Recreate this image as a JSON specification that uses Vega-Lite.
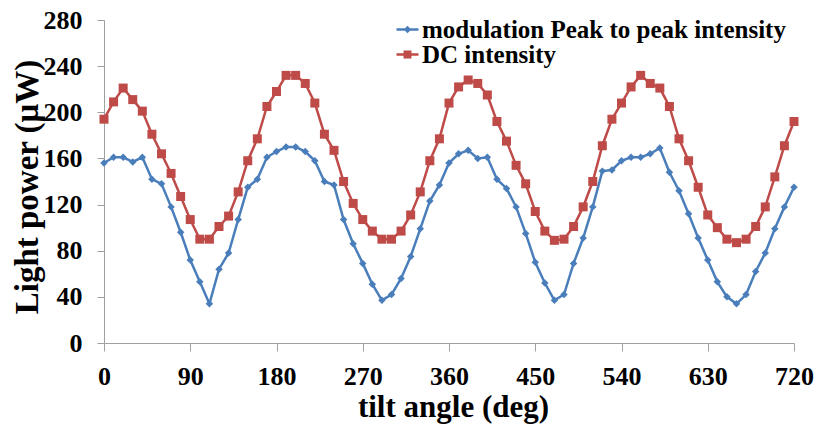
{
  "$schema": "https://vega.github.io/schema/vega-lite/v6.json",
  "width": 690,
  "height": 323,
  "autosize": {"type": "none"},
  "padding": {"left": 104, "top": 20, "right": 22, "bottom": 81},
  "background": "white",
  "config": {
    "view": {"stroke": null},
    "font": "Liberation Serif"
  },
  "data": {
    "values": [
      {"angle": 0, "ModPP": 156, "DC": 194},
      {"angle": 10, "ModPP": 161, "DC": 209},
      {"angle": 20, "ModPP": 161, "DC": 221},
      {"angle": 30, "ModPP": 157, "DC": 211},
      {"angle": 40, "ModPP": 161, "DC": 201},
      {"angle": 50, "ModPP": 142, "DC": 181},
      {"angle": 60, "ModPP": 138, "DC": 164},
      {"angle": 70, "ModPP": 118, "DC": 147},
      {"angle": 80, "ModPP": 96, "DC": 127},
      {"angle": 90, "ModPP": 72, "DC": 107},
      {"angle": 100, "ModPP": 53, "DC": 90},
      {"angle": 110, "ModPP": 34, "DC": 90},
      {"angle": 120, "ModPP": 64, "DC": 101},
      {"angle": 130, "ModPP": 78, "DC": 110},
      {"angle": 140, "ModPP": 107, "DC": 131},
      {"angle": 150, "ModPP": 135, "DC": 158},
      {"angle": 160, "ModPP": 142, "DC": 177},
      {"angle": 170, "ModPP": 161, "DC": 205},
      {"angle": 180, "ModPP": 166, "DC": 218},
      {"angle": 190, "ModPP": 170, "DC": 232},
      {"angle": 200, "ModPP": 170, "DC": 232},
      {"angle": 210, "ModPP": 166, "DC": 225},
      {"angle": 220, "ModPP": 158, "DC": 208},
      {"angle": 230, "ModPP": 140, "DC": 181},
      {"angle": 240, "ModPP": 137, "DC": 167},
      {"angle": 250, "ModPP": 107, "DC": 140},
      {"angle": 260, "ModPP": 86, "DC": 121},
      {"angle": 270, "ModPP": 69, "DC": 107},
      {"angle": 280, "ModPP": 51, "DC": 97},
      {"angle": 290, "ModPP": 37, "DC": 90},
      {"angle": 300, "ModPP": 42, "DC": 90},
      {"angle": 310, "ModPP": 56, "DC": 97},
      {"angle": 320, "ModPP": 75, "DC": 111},
      {"angle": 330, "ModPP": 99, "DC": 131},
      {"angle": 340, "ModPP": 123, "DC": 158},
      {"angle": 350, "ModPP": 137, "DC": 177},
      {"angle": 360, "ModPP": 156, "DC": 208},
      {"angle": 370, "ModPP": 164, "DC": 222},
      {"angle": 380, "ModPP": 167, "DC": 228},
      {"angle": 390, "ModPP": 160, "DC": 225},
      {"angle": 400, "ModPP": 161, "DC": 215},
      {"angle": 410, "ModPP": 142, "DC": 192},
      {"angle": 420, "ModPP": 134, "DC": 175},
      {"angle": 430, "ModPP": 118, "DC": 154},
      {"angle": 440, "ModPP": 95, "DC": 138},
      {"angle": 450, "ModPP": 70, "DC": 114},
      {"angle": 460, "ModPP": 52, "DC": 97},
      {"angle": 470, "ModPP": 37, "DC": 89},
      {"angle": 480, "ModPP": 42, "DC": 90},
      {"angle": 490, "ModPP": 69, "DC": 101},
      {"angle": 500, "ModPP": 91, "DC": 118},
      {"angle": 510, "ModPP": 118, "DC": 140},
      {"angle": 520, "ModPP": 149, "DC": 171},
      {"angle": 530, "ModPP": 150, "DC": 194},
      {"angle": 540, "ModPP": 158, "DC": 208},
      {"angle": 550, "ModPP": 161, "DC": 222},
      {"angle": 560, "ModPP": 161, "DC": 232},
      {"angle": 570, "ModPP": 164, "DC": 225},
      {"angle": 580, "ModPP": 169, "DC": 221},
      {"angle": 590, "ModPP": 148, "DC": 205},
      {"angle": 600, "ModPP": 132, "DC": 177},
      {"angle": 610, "ModPP": 112, "DC": 158},
      {"angle": 620, "ModPP": 91, "DC": 135},
      {"angle": 630, "ModPP": 72, "DC": 111},
      {"angle": 640, "ModPP": 53, "DC": 100},
      {"angle": 650, "ModPP": 40, "DC": 90},
      {"angle": 660, "ModPP": 34, "DC": 87},
      {"angle": 670, "ModPP": 42, "DC": 90},
      {"angle": 680, "ModPP": 62, "DC": 101},
      {"angle": 690, "ModPP": 78, "DC": 118},
      {"angle": 700, "ModPP": 99, "DC": 144},
      {"angle": 710, "ModPP": 118, "DC": 171},
      {"angle": 720, "ModPP": 135, "DC": 192}
    ]
  },
  "transform": [{"fold": ["ModPP", "DC"], "as": ["key", "value"]}],
  "encoding": {
    "x": {
      "field": "angle", "type": "quantitative",
      "scale": {"domain": [0, 720], "nice": false, "zero": false},
      "axis": {
        "values": [0, 90, 180, 270, 360, 450, 540, 630, 720],
        "grid": false, "domainColor": "#a0a0a0", "tickColor": "#a0a0a0", "tickSize": 8,
        "labelFont": "Liberation Serif", "labelFontWeight": "bold", "labelFontSize": 26, "labelColor": "black",
        "labelPadding": 12, "labelFlush": false,
        "title": "tilt angle (deg)", "titleFont": "Liberation Serif", "titleFontWeight": "bold", "titleFontSize": 31,
        "titleColor": "black", "titleX": 349, "titleY": 73, "titleBaseline": "alphabetic", "titleAlign": "center"
      }
    },
    "y": {
      "field": "value", "type": "quantitative",
      "scale": {"domain": [0, 280], "nice": false},
      "axis": {
        "values": [0, 40, 80, 120, 160, 200, 240, 280],
        "grid": false, "domainColor": "#a0a0a0", "tickColor": "#a0a0a0", "tickSize": 7,
        "labelFont": "Liberation Serif", "labelFontWeight": "bold", "labelFontSize": 26, "labelColor": "black",
        "labelPadding": 15, "labelFlush": false,
        "title": "Light power (μW)", "titleFont": "Liberation Serif", "titleFontWeight": "bold", "titleFontSize": 33,
        "titleColor": "black", "titleX": -67, "titleY": 166.5, "titleAngle": 270, "titleBaseline": "alphabetic", "titleAlign": "center"
      }
    }
  },
  "layer": [
    {
      "mark": {"type": "line", "strokeWidth": 2.5},
      "encoding": {
        "color": {"field": "key", "type": "nominal", "scale": {"domain": ["ModPP", "DC"], "range": ["#4A7EBB", "#BE4B48"]}, "legend": null}
      }
    },
    {
      "mark": {"type": "point", "filled": true, "opacity": 1},
      "encoding": {
        "color": {"field": "key", "type": "nominal", "scale": {"domain": ["ModPP", "DC"], "range": ["#4A7EBB", "#BE4B48"]}, "legend": null},
        "shape": {"field": "key", "type": "nominal", "scale": {"domain": ["ModPP", "DC"], "range": ["diamond", "square"]}, "legend": null},
        "size": {"field": "key", "type": "nominal", "scale": {"domain": ["ModPP", "DC"], "range": [56, 81]}, "legend": null}
      }
    },
    {
      "transform": [{"filter": "datum.key === 'ModPP'"}],
      "mark": {"type": "point", "filled": true, "opacity": 0, "color": "#4A7EBB"},
      "encoding": {
        "shape": {
          "field": "key", "type": "nominal",
          "scale": {"domain": ["ModPP"], "range": ["M-1,-0.11L1,-0.11L1,0.11L-1,0.11Z M0,-0.34L0.34,0L0,0.34L-0.34,0Z"]},
          "legend": {
            "orient": "none", "legendX": 291, "legendY": -3, "title": null,
            "labelExpr": "'modulation Peak to peak intensity'",
            "labelFont": "Liberation Serif", "labelFontWeight": "bold", "labelFontSize": 25, "labelColor": "black",
            "labelLimit": 600, "labelOffset": 2, "symbolSize": 484, "rowPadding": 0, "padding": 0,
            "symbolStrokeWidth": 0, "symbolOpacity": 1
          }
        }
      }
    },
    {
      "transform": [{"filter": "datum.key === 'DC'"}],
      "mark": {"type": "point", "filled": true, "opacity": 0, "color": "#BE4B48"},
      "encoding": {
        "shape": {
          "field": "key", "type": "nominal",
          "scale": {"domain": ["DC"], "range": ["M-1,-0.11L1,-0.11L1,0.11L-1,0.11Z M-0.36,-0.36L0.36,-0.36L0.36,0.36L-0.36,0.36Z"]},
          "legend": {
            "orient": "none", "legendX": 291, "legendY": 22, "title": null,
            "labelExpr": "'DC intensity'",
            "labelFont": "Liberation Serif", "labelFontWeight": "bold", "labelFontSize": 25, "labelColor": "black",
            "labelLimit": 600, "labelOffset": 2, "symbolSize": 484, "rowPadding": 0, "padding": 0,
            "symbolStrokeWidth": 0, "symbolOpacity": 1
          }
        }
      }
    }
  ],
  "resolve": {"scale": {"shape": "independent"}}
}
